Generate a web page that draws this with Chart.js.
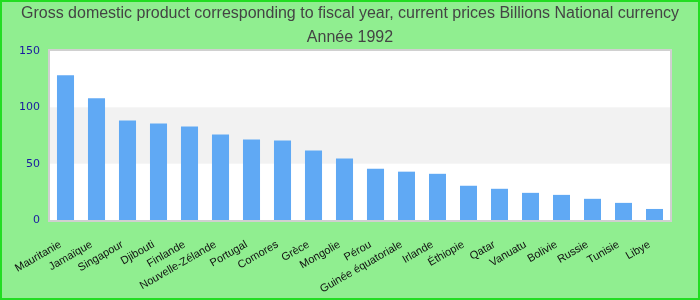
<!DOCTYPE html>
<html>
<head>
<meta charset="utf-8">
<script src="https://cdn.jsdelivr.net/npm/chart.js@4"></script>
<style>
  html, body { margin: 0; padding: 0; background: #90ee90; }
  #wrap { width: 700px; height: 300px; }
</style>
</head>
<body>
<div id="wrap"><canvas id="chart" width="700" height="300"></canvas></div>
<script>
const categories = ['Mauritanie', 'Jamaïque', 'Singapour', 'Djibouti', 'Finlande', 'Nouvelle-Zélande',
  'Portugal', 'Comores', 'Grèce', 'Mongolie', 'Pérou', 'Guinée équatoriale', 'Irlande', 'Éthiopie',
  'Qatar', 'Vanuatu', 'Bolivie', 'Russie', 'Tunisie', 'Libye'];
const gdpValues = [128.5, 108, 88.4, 85.7, 83, 75.9, 71.4, 70.5, 61.6, 54.5, 45.5, 42.9, 41, 30.4,
  27.7, 24.1, 22.3, 18.8, 15.2, 9.8];
const yTicks = [0, 50, 100, 150];
const titleLines = ['Gross domestic product corresponding to fiscal year, current prices Billions National currency', 'Année 1992'];

// background, alternating band and plot frame
const backdrop = {
  id: 'backdrop',
  beforeDraw(chart) {
    const { ctx, chartArea: a, scales: { y } } = chart;
    ctx.save();
    ctx.fillStyle = '#90ee90';
    ctx.fillRect(0, 0, chart.width, chart.height);
    ctx.strokeStyle = '#22dd22';
    ctx.lineWidth = 2;
    ctx.strokeRect(1, 1, chart.width - 2, chart.height - 2);
    ctx.fillStyle = '#ffffff';
    ctx.fillRect(a.left, a.top, a.right - a.left, a.bottom - a.top);
    ctx.fillStyle = '#f2f2f2';
    const t = y.getPixelForValue(yTicks[2]);
    const b = y.getPixelForValue(yTicks[1]);
    ctx.fillRect(a.left, t, a.right - a.left, b - t);
    ctx.strokeStyle = '#d0d0d0';
    ctx.lineWidth = 2;
    ctx.strokeRect(a.left - 1, a.top - 1, a.right - a.left + 2, a.bottom - a.top + 2);
    ctx.restore();
  }
};

new Chart(document.getElementById('chart'), {
  type: 'bar',
  data: {
    labels: categories,
    datasets: [{
      data: gdpValues,
      backgroundColor: '#60a9f4',
      borderWidth: 0,
      barPercentage: 0.55,
      categoryPercentage: 1
    }]
  },
  options: {
    responsive: false,
    animation: false,
    layout: { padding: 0 },
    plugins: {
      legend: { display: false },
      tooltip: { enabled: false },
      title: {
        display: true,
        text: titleLines,
        color: '#444444',
        font: { family: 'Liberation Sans, Arial, sans-serif', size: 16, weight: 'normal', lineHeight: 1.5 },
        padding: { top: 2, bottom: 1 }
      }
    },
    scales: {
      x: {
        afterFit(scale) { scale.height = 80; },
        grid: { display: false },
        border: { display: false },
        ticks: {
          color: '#111111',
          minRotation: 30,
          maxRotation: 30,
          autoSkip: false,
          padding: 10,
          labelOffset: -5,
          font: { family: 'Liberation Sans, Arial, sans-serif', size: 11 }
        }
      },
      y: {
        min: 0,
        max: 150,
        afterFit(scale) { scale.width = 50; },
        afterBuildTicks(scale) { scale.ticks = yTicks.map(v => ({ value: v })); },
        grid: { display: false },
        border: { display: false },
        ticks: {
          color: '#1a1aa0',
          padding: 2,
          font: { family: 'DejaVu Sans, sans-serif', size: 11 }
        }
      },
      // empty right axis, only reserves the right margin
      yRight: {
        position: 'right',
        afterFit(scale) { scale.width = 30; },
        grid: { display: false },
        border: { display: false },
        ticks: { display: false }
      }
    }
  },
  plugins: [backdrop]
});
</script>
</body>
</html>
